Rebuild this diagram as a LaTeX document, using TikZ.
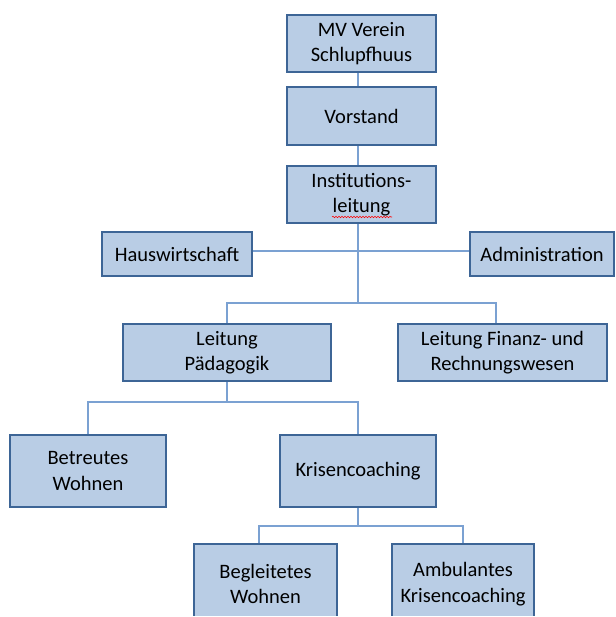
\documentclass[tikz,border=0pt]{standalone}
\usepackage{fontspec}
\setmainfont{Carlito}
\usetikzlibrary{positioning, decorations.pathmorphing}

\definecolor{boxfill}{HTML}{B9CDE5}
\definecolor{boxline}{HTML}{3D6596}
\definecolor{linkline}{HTML}{7BA1D2}

\begin{document}
\begin{tikzpicture}[
            x=1pt, y=-1pt,
            unit/.style={rectangle, draw=boxline, line width=2pt, fill=boxfill, align=center, inner sep=0pt, font=\fontsize{20.5}{25.5}\selectfont},
            label text/.style={align=center, inner sep=0pt, font=\fontsize{20.5}{25.5}\selectfont},
            link/.style={draw=linkline, line width=1.3pt}
            ]
            \useasboundingbox (0,0) rectangle (615,617);
            \clip (0,0) rectangle (615,615);

            \coordinate (spine) at (358,0);
            \coordinate (fork1) at (358,303);
            \coordinate (fork2) at (227,402);
            \coordinate (fork3) at (358,526);

            \node (mv) [unit, minimum width=149pt, minimum height=57pt] at (361.5,43.5) {MV Verein\\Schlupfhuus};
            \node (vorstand) [unit, minimum width=149pt, minimum height=58pt] at (361.5,116) {Vorstand};
            \node (inst) [unit, minimum width=149pt, minimum height=57pt] at (361.5,194.5) {Institutions-\\leitung};
            \node (haus) [unit, minimum width=150pt, minimum height=44pt] at (177,254) {Hauswirtschaft};
            \node (admin) [unit, minimum width=144pt, minimum height=44pt] at (542,254) {Administration};
            \node (paed) [unit, minimum width=208pt, minimum height=57pt] at (227,352.5) {Leitung\\Pädagogik};
            \node (fin) [unit, minimum width=209pt, minimum height=57pt] at (502.5,352.5) {Leitung Finanz- und\\Rechnungswesen};
            \node (betr) [unit, minimum width=156pt, minimum height=72pt] at (88,471) {Betreutes\\Wohnen};
            \node (kris) [unit, minimum width=156pt, minimum height=72pt] at (358,471) {Krisencoaching};
            % the two lowest boxes run off the bottom edge
            \node (begl) [unit, minimum width=143pt, minimum height=82pt] at (265.5,585) {};
            \node (ambul) [unit, minimum width=142pt, minimum height=82pt] at (463,585) {};
            \node (begltext) [label text] at (265.5,584) {Begleitetes\\Wohnen};
            \node (ambultext) [label text] at (463,584) {Ambulantes\\Krisencoaching};

            \draw [link] (mv.south -| spine) -- (vorstand.north -| spine);
            \draw [link] (vorstand.south -| spine) -- (inst.north -| spine);
            \draw [link] ([yshift=3pt]haus.east) -- ([yshift=3pt]admin.west);
            \draw [link] (inst.south -| spine) -- (fork1);
            \draw [link] (paed.north) |- (fork1) -| ([xshift=-6.5pt]fin.north);
            \draw [link] (paed.south) -- (fork2);
            \draw [link] (betr.north) |- (fork2) -| (kris.north);
            \draw [link] (kris.south) -- (fork3);
            \draw [link] ([xshift=-6.5pt]begl.north) |- (fork3) -| (ambul.north);

            % spell-check mark under "leitung"
            \draw [red, line width=0.6pt, decorate, decoration={snake, amplitude=0.7pt, segment length=3pt}] ([shift={(-29.5,22.5)}]inst.center) -- ([shift={(30.5,22.5)}]inst.center);
        \end{tikzpicture}
\end{document}
